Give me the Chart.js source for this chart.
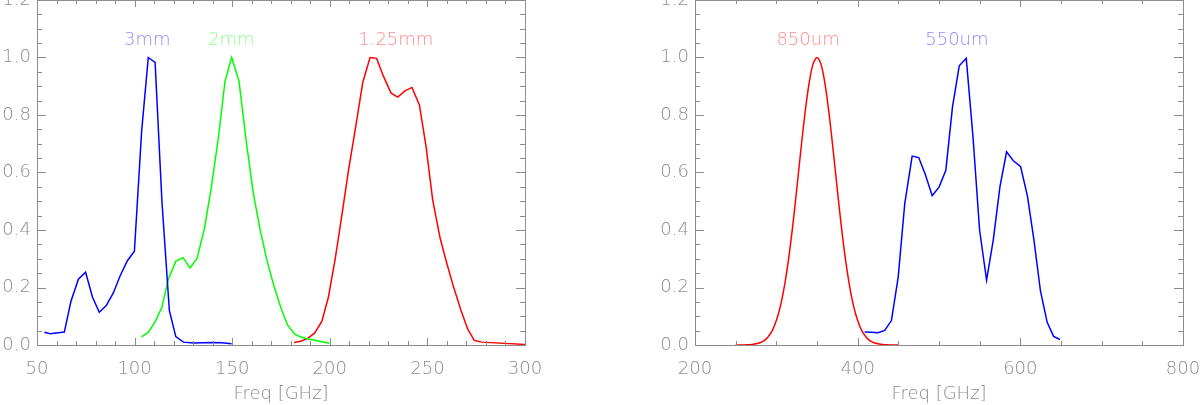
<!DOCTYPE html>
<html>
<head>
<meta charset="utf-8">
<script src="https://cdn.jsdelivr.net/npm/chart.js@4.4.0/dist/chart.umd.min.js"></script>
<style>
  html, body { margin: 0; padding: 0; background: #fff; overflow: hidden; }
  #wrap { position: relative; width: 1200px; height: 405px; overflow: hidden; }
  canvas { position: absolute; top: -20px; }
</style>
</head>
<body>
<div id="wrap">
  <canvas id="mmChart" width="600" height="425" style="left:0"></canvas>
  <canvas id="umChart" width="620" height="425" style="left:600px"></canvas>
</div>
<script>
// ---- data (freq in GHz, normalised response) ----
var freq3mm = [53.8, 56.7, 64.0, 67.4, 71.2, 74.9, 78.4, 81.9, 85.5, 89.1, 92.5, 96.3, 99.9, 103.6, 107.0, 110.5, 114.0, 117.8, 121.1, 125.0, 130.1, 135.2, 139.5, 144.6, 149.7];
var resp3mm = [0.044, 0.039, 0.045, 0.152, 0.229, 0.253, 0.167, 0.114, 0.137, 0.181, 0.239, 0.293, 0.326, 0.743, 1.000, 0.983, 0.500, 0.120, 0.029, 0.010, 0.007, 0.008, 0.009, 0.008, 0.004];

var freq2mm = [103.6, 107.0, 110.6, 114.0, 117.3, 121.1, 124.8, 128.4, 132.0, 135.6, 139.0, 142.9, 146.3, 149.7, 153.5, 157.1, 160.8, 164.3, 167.7, 171.4, 175.0, 178.4, 182.2, 185.6, 189.0, 199.8];
var resp2mm = [0.028, 0.044, 0.082, 0.131, 0.230, 0.291, 0.304, 0.268, 0.301, 0.400, 0.534, 0.720, 0.917, 1.000, 0.917, 0.714, 0.528, 0.401, 0.297, 0.204, 0.128, 0.069, 0.037, 0.027, 0.021, 0.006];

var freq1mm = [181.7, 185.1, 188.7, 192.3, 195.9, 199.3, 202.7, 206.1, 209.5, 213.4, 216.9, 220.6, 224.0, 227.4, 231.4, 234.8, 238.5, 242.1, 245.9, 249.3, 252.7, 256.5, 259.9, 263.3, 267.1, 270.6, 274.0, 277.8, 300.0];
var resp1mm = [0.009, 0.013, 0.023, 0.042, 0.082, 0.167, 0.297, 0.447, 0.604, 0.766, 0.913, 1.000, 0.997, 0.936, 0.876, 0.862, 0.884, 0.896, 0.835, 0.691, 0.505, 0.372, 0.285, 0.204, 0.123, 0.056, 0.016, 0.010, 0.002];

var freq850 = [250, 255, 260, 265, 270, 275, 280, 285, 290, 295, 300, 305, 310, 315, 320, 325, 330, 335, 340, 345, 350,
               355, 360, 365, 370, 375, 380, 385, 390, 395, 400, 405, 410, 415, 420, 425, 430, 435, 440, 445, 450];
var resp850 = [0.000, 0.000, 0.000, 0.001, 0.002, 0.004, 0.008, 0.015, 0.029, 0.050, 0.085, 0.135, 0.206, 0.298, 0.411, 0.540, 0.674, 0.801, 0.906, 0.976, 1.000,
               0.976, 0.906, 0.801, 0.674, 0.540, 0.411, 0.298, 0.206, 0.135, 0.085, 0.050, 0.029, 0.015, 0.008, 0.004, 0.002, 0.001, 0.000, 0.000, 0.000];

var freq550 = [408.6, 416.9, 425.1, 433.3, 441.5, 449.8, 457.9, 467.0, 475.1, 483.4, 491.6, 500.2, 508.4, 516.6, 524.9, 533.5, 541.8, 549.9, 558.5, 566.7, 574.9, 583.1, 591.4, 600.4, 608.8, 616.7, 624.8, 633.0, 640.9, 648.8];
var resp550 = [0.045, 0.044, 0.043, 0.051, 0.085, 0.235, 0.492, 0.657, 0.652, 0.591, 0.519, 0.550, 0.608, 0.828, 0.971, 0.997, 0.724, 0.400, 0.226, 0.365, 0.550, 0.672, 0.641, 0.620, 0.517, 0.366, 0.187, 0.079, 0.030, 0.019];

var bandNames = ['3mm', '2mm', '1.25mm', '850um', '550um'];
var bandLabelX = [106.5, 149.5, 233.8, 339.0, 522.0];
var bandLabelY = 1.06;

var yTicks = [0, 1.2, 0.2, 0.05];           // min, max, major step, minor step
var xTicksMm = [50, 300, 50, 10];
var xTicksUm = [200, 800, 200, 50];

var axisGrey = '#8c8c8c';
var fontFamily = "'DejaVu Sans', 'Liberation Sans', sans-serif";

function pts(xs, ys) {
  return xs.map(function (x, i) { return { x: x, y: ys[i] }; });
}

// box round the plot plus IDL-style inward ticks and the band labels
var frameTicks = {
  id: 'frameTicks',
  afterDatasetsDraw: function (chart, args, opts) {
    var ctx = chart.ctx, a = chart.chartArea;
    var xs = chart.scales.x, ys = chart.scales.y;
    ctx.save();
    ctx.strokeStyle = axisGrey;
    ctx.lineWidth = 1;
    ctx.strokeRect(Math.round(a.left) + 0.5, Math.round(a.top) + 0.5,
                   Math.round(a.right - a.left), Math.round(a.bottom - a.top));
    ctx.beginPath();
    var xt = opts.xTicks, n, v, px, len;
    n = Math.round((xt[1] - xt[0]) / xt[3]);
    for (var i = 0; i <= n; i++) {
      v = xt[0] + i * xt[3];
      px = Math.round(xs.getPixelForValue(v)) + 0.5;
      len = (Math.abs(v / xt[2] - Math.round(v / xt[2])) < 1e-6) ? 7 : 4;
      ctx.moveTo(px, a.bottom); ctx.lineTo(px, a.bottom - len);
      ctx.moveTo(px, a.top); ctx.lineTo(px, a.top + len);
    }
    n = Math.round((yTicks[1] - yTicks[0]) / yTicks[3]);
    for (var j = 0; j <= n; j++) {
      v = yTicks[0] + j * yTicks[3];
      var py = Math.round(ys.getPixelForValue(v)) + 0.5;
      len = (j % Math.round(yTicks[2] / yTicks[3]) === 0) ? 9 : 5;
      ctx.moveTo(a.left, py); ctx.lineTo(a.left + len, py);
      ctx.moveTo(a.right, py); ctx.lineTo(a.right - len, py);
    }
    ctx.stroke();

    ctx.font = '200 18px ' + fontFamily;
    ctx.textAlign = 'center';
    ctx.textBaseline = 'middle';
    opts.labels.forEach(function (k) {
      ctx.fillStyle = opts.labelColors[k];
      ctx.fillText(bandNames[k], xs.getPixelForValue(bandLabelX[k]), ys.getPixelForValue(bandLabelY));
    });
    ctx.restore();
  }
};

function makeChart(id, datasets, xt, yAxisWidth, padRight, labels, labelColors) {
  var tickFont = { family: fontFamily, size: 18, weight: '200' };
  return new Chart(document.getElementById(id), {
    type: 'line',
    data: { datasets: datasets },
    plugins: [frameTicks],
    options: {
      responsive: false,
      animation: false,
      layout: { padding: { top: 20, right: padRight, left: 0, bottom: 0 } },
      plugins: {
        legend: { display: false },
        tooltip: { enabled: false },
        frameTicks: { xTicks: xt, labels: labels, labelColors: labelColors }
      },
      elements: {
        point: { radius: 0 },
        line: { borderWidth: 1.5, tension: 0 }
      },
      scales: {
        x: {
          type: 'linear',
          min: xt[0], max: xt[1],
          grid: { display: false, drawTicks: false },
          border: { display: false },
          ticks: { stepSize: xt[2], color: axisGrey, font: tickFont, padding: 14, maxRotation: 0 },
          title: {
            display: true, text: 'Freq [GHz]', color: axisGrey,
            font: tickFont, padding: { top: 0, bottom: 0 }
          },
          afterFit: function (s) { s.height = 60; }
        },
        y: {
          min: yTicks[0], max: yTicks[1],
          grid: { display: false, drawTicks: false },
          border: { display: false },
          ticks: {
            stepSize: yTicks[2], color: axisGrey, font: tickFont, padding: 6,
            callback: function (v) { return v.toFixed(1); }
          },
          afterFit: function (s) { s.width = yAxisWidth; }
        }
      }
    }
  });
}

makeChart('mmChart', [
  { label: '3mm', data: pts(freq3mm, resp3mm), borderColor: '#0000ff' },
  { label: '2mm', data: pts(freq2mm, resp2mm), borderColor: '#00ff00' },
  { label: '1.25mm', data: pts(freq1mm, resp1mm), borderColor: '#ff0000' }
], xTicksMm, 37, 75, [0, 1, 2], { 0: '#8c8cff', 1: '#8cff8c', 2: '#ff8c8c' });

makeChart('umChart', [
  { label: '850um', data: pts(freq850, resp850), borderColor: '#ff0000', tension: 0.3 },
  { label: '550um', data: pts(freq550, resp550), borderColor: '#0000ff' }
], xTicksUm, 95, 37, [3, 4], { 3: '#ff8c8c', 4: '#8c8cff' });
</script>
</body>
</html>
